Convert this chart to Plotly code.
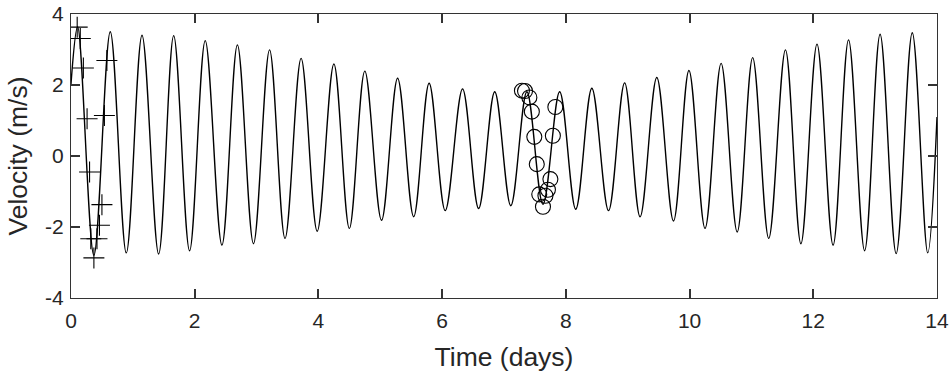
import plotly.graph_objects as go

# Main velocity curve: read at start, each crest/trough, and end (days, m/s)
curve_t = [0.0, 0.107, 0.37, 0.635, 0.894, 1.148, 1.417, 1.66, 1.917, 2.17, 2.44,
           2.69, 2.95, 3.21, 3.46, 3.72, 3.98, 4.25, 4.50, 4.75, 5.02, 5.28, 5.54,
           5.79, 6.05, 6.33, 6.59, 6.85, 7.11, 7.37, 7.63, 7.90, 8.16, 8.42, 8.69,
           8.95, 9.20, 9.47, 9.74, 9.99, 10.25, 10.51, 10.77, 11.02, 11.28, 11.55,
           11.80, 12.06, 12.32, 12.57, 12.83, 13.08, 13.34, 13.60, 13.85, 14.0]
curve_v = [2.03, 3.64, -2.80, 3.50, -2.73, 3.40, -2.76, 3.39, -2.67, 3.25, -2.51,
           3.13, -2.47, 2.99, -2.32, 2.75, -2.12, 2.59, -2.04, 2.39, -1.81, 2.19, -1.71,
           2.05, -1.54, 1.89, -1.48, 1.81, -1.40, 1.81, -1.36, 1.81, -1.50, 1.91, -1.54,
           2.06, -1.71, 2.21, -1.83, 2.41, -2.04, 2.61, -2.14, 2.77, -2.32, 2.99,
           -2.47, 3.15, -2.51, 3.27, -2.67, 3.43, -2.75, 3.47, -2.73, 1.10]

# '+' markers near the start
plus_t = [0.10, 0.15, 0.20, 0.26, 0.30, 0.32, 0.37, 0.42, 0.46, 0.50, 0.54, 0.58]
plus_v = [3.63, 3.31, 2.48, 1.05, -0.45, -2.33, -2.87, -2.33, -1.95, -1.37, 1.14, 2.69]

# 'o' markers near day 7.5
circ_t = [7.29, 7.34, 7.41, 7.45, 7.49, 7.53, 7.57, 7.63, 7.67, 7.71, 7.75, 7.79, 7.83]
circ_v = [1.84, 1.83, 1.65, 1.25, 0.54, -0.23, -1.08, -1.43, -1.12, -0.95, -0.65, 0.57, 1.38]

x_ticks = [0, 2, 4, 6, 8, 10, 12, 14]
x_labels = ["0", "2", "4", "6", "8", "10", "12", "14"]
y_ticks = [-4, -2, 0, 2, 4]
y_labels = ["-4", "-2", "0", "2", "4"]

fig = go.Figure()
fig.add_trace(go.Scatter(x=curve_t, y=curve_v, mode="lines",
                         line=dict(color="black", width=1.4, shape="spline", smoothing=1.0),
                         showlegend=False, hoverinfo="skip"))
fig.add_trace(go.Scatter(x=plus_t, y=plus_v, mode="markers",
                         marker=dict(symbol="cross-thin-open", size=15, color="black",
                                     line=dict(color="black", width=1.1)),
                         showlegend=False))
fig.add_trace(go.Scatter(x=circ_t, y=circ_v, mode="markers",
                         marker=dict(symbol="circle-open", size=15, color="black",
                                     line=dict(color="black", width=1.1)),
                         showlegend=False))

axis_color = "#333333"
fig.update_layout(
    width=951, height=374,
    margin=dict(l=71, r=14, t=14, b=76),
    plot_bgcolor="white", paper_bgcolor="white",
    font=dict(family="Liberation Sans, Arial, sans-serif", color="#262626", size=21),
    xaxis=dict(range=[0, 14], tickvals=x_ticks, ticktext=x_labels, automargin=False,
               showgrid=False, zeroline=False, showline=True, linecolor=axis_color,
               linewidth=1, mirror="ticks", ticks="inside", ticklen=9,
               tickcolor=axis_color, tickwidth=1.5, ticklabelstandoff=4,
               ticklabeloverflow="allow", tickfont=dict(size=21),
               title=dict(text="Time (days)", font=dict(size=26.5), standoff=16)),
    yaxis=dict(range=[-4, 4], tickvals=y_ticks, ticktext=y_labels, automargin=False,
               showgrid=False, zeroline=False, showline=True, linecolor=axis_color,
               linewidth=1, mirror="ticks", ticks="inside", ticklen=9,
               tickcolor=axis_color, tickwidth=1.5, ticklabelstandoff=2,
               ticklabeloverflow="allow", tickfont=dict(size=21),
               title=dict(text="Velocity (m/s)", font=dict(size=26.5), standoff=9)),
)

# remove the browser's default 8px body margin so the figure sits at the page origin
fig.write_html("out.html", config={"displayModeBar": False},
               post_script="document.body.style.margin='0px';")
